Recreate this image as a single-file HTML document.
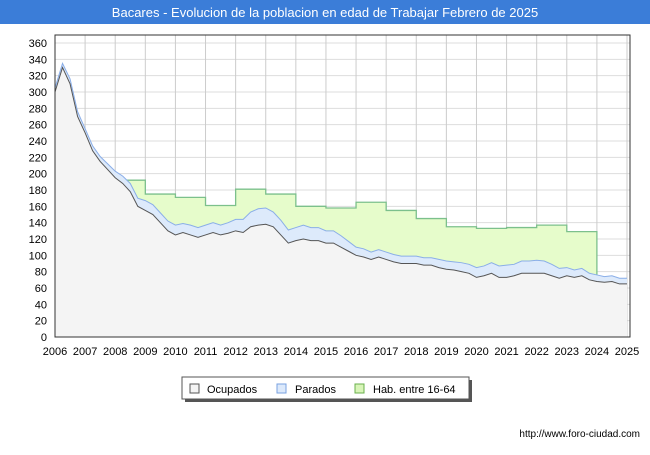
<!DOCTYPE html>
<html><head><meta charset="utf-8"><style>
body{margin:0;width:650px;height:450px;background:#fff;font-family:"Liberation Sans",sans-serif;overflow:hidden}
</style></head><body>
<svg width="650" height="450">
<rect x="0" y="0" width="650" height="24" fill="#3b7dd8"/>
<text x="325" y="17" text-anchor="middle" fill="#fff" font-size="13">Bacares - Evolucion de la poblacion en edad de Trabajar Febrero de 2025</text>
<g id="plot"></g>
<g>
<rect x="185" y="380" width="287" height="22" fill="#555"/>
<rect x="182" y="377" width="287" height="22" fill="#fff" stroke="#555"/>
<rect x="190" y="384" width="9" height="9" fill="#f4f4f4" stroke="#555"/>
<text x="207" y="393" font-size="11">Ocupados</text>
<rect x="277" y="384" width="9" height="9" fill="#dce9fb" stroke="#7aa2e0"/>
<text x="295" y="393" font-size="11">Parados</text>
<rect x="355" y="384" width="9" height="9" fill="#d8f5b8" stroke="#6ab04c"/>
<text x="373" y="393" font-size="11">Hab. entre 16-64</text>
</g>
<text x="640" y="437" text-anchor="end" font-size="10">http://www.foro-ciudad.com</text>
</svg>
<script>
const years=[2006,2007,2008,2009,2010,2011,2012,2013,2014,2015,2016,2017,2018,2019,2020,2021,2022,2023,2024,2025];
const yTicks=[0,20,40,60,80,100,120,140,160,180,200,220,240,260,280,300,320,340,360];
const habStart=[2008.2,2009,2010,2011,2012,2013,2014,2015,2016,2017,2018,2019,2020,2021,2022,2023];
const habValues=[192,175,171,161,181,175,160,158,165,155,145,135,133,134,137,129];
const ocupados=[300,330,310,270,250,228,215,205,195,188,178,160,155,150,140,130,125,128,125,122,125,128,125,127,130,128,135,137,138,135,125,115,118,120,118,118,115,115,110,105,100,98,95,98,95,92,90,90,90,88,88,85,83,82,80,78,73,75,78,73,73,75,78,78,78,78,75,72,75,73,75,70,68,67,68,65,65];
const parados=[5,5,6,6,5,6,6,7,8,9,10,10,12,12,12,12,12,11,12,12,12,12,12,13,14,16,18,20,20,18,18,16,16,17,16,16,15,15,14,12,10,10,9,9,9,9,9,9,9,9,9,10,10,10,11,11,12,12,13,14,15,14,15,15,16,15,14,12,10,9,9,8,8,7,7,7,7];
const X0=55,X1=627,Y0=337,PXU=294/360,TOP=35;
const xs=y=>X0+(y-2006)*(X1-X0)/19;
const ys=v=>Y0-v*PXU;
const tq=i=>2006+i*0.25;
const NS="http://www.w3.org/2000/svg";
const g=document.getElementById('plot');
function mk(t,a,p){const e=document.createElementNS(NS,t);for(const k in a)e.setAttribute(k,a[k]);(p||g).appendChild(e);return e;}
mk('rect',{x:X0,y:TOP,width:X1+3-X0,height:Y0-TOP,fill:'#fff',stroke:'#333'});
yTicks.forEach(v=>{const l=mk('line',{x1:X0,x2:X1+3,y1:ys(v),y2:ys(v),stroke:'#ddd'});


const t=mk('text',{x:X0-8,y:ys(v)+4,'text-anchor':'end','font-size':11});t.textContent=v;

});
years.forEach(y=>{const l=mk('line',{x1:xs(y),x2:xs(y),y1:TOP,y2:Y0,stroke:'#ccc'});


const t=mk('text',{x:xs(y),y:Y0+18,'text-anchor':'middle','font-size':11});t.textContent=y;

});
// hab area
let hp='',hl='';
habStart.forEach((s,i)=>{const e=i<habStart.length-1?habStart[i+1]:2024;hp+=(i?'L':'M')+xs(s)+','+ys(habValues[i])+'L'+xs(e)+','+ys(habValues[i]);});
const lastIdx=Math.round((2024-2006)*4);
const firstIdx=Math.round((habStart[0]-2006)*4);
let hab=hp+'L'+xs(2024)+','+ys(ocupados[lastIdx]+parados[lastIdx]);
for(let i=lastIdx;i>=firstIdx;i--)hab+='L'+xs(tq(i))+','+ys(ocupados[i]+parados[i]);
hab+='Z';
let e=mk('path',{d:hab,fill:'#e6fccb'});


e=mk('path',{d:hp+'L'+xs(2024)+','+ys(ocupados[lastIdx]+parados[lastIdx]),fill:'none',stroke:'#7cc08c','stroke-width':1.3});


// parados area
let tot='',oc='';
ocupados.forEach((v,i)=>{tot+=(i?'L':'M')+xs(tq(i))+','+ys(v+parados[i]);oc+=(i?'L':'M')+xs(tq(i))+','+ys(v);});
let back='';for(let i=ocupados.length-1;i>=0;i--)back+='L'+xs(tq(i))+','+ys(ocupados[i]);
e=mk('path',{d:tot+back+'Z',fill:'#ddeafb'});


e=mk('path',{d:oc+'L'+xs(tq(ocupados.length-1))+','+Y0+'L'+X0+','+Y0+'Z',fill:'#f4f4f4'});


e=mk('path',{d:tot,fill:'none',stroke:'#8aaee8','stroke-width':1});


e=mk('path',{d:oc,fill:'none',stroke:'#555','stroke-width':1});


mk('rect',{x:X0,y:TOP,width:X1+3-X0,height:Y0-TOP,fill:'none',stroke:'#333'});
</script>
</body></html>
